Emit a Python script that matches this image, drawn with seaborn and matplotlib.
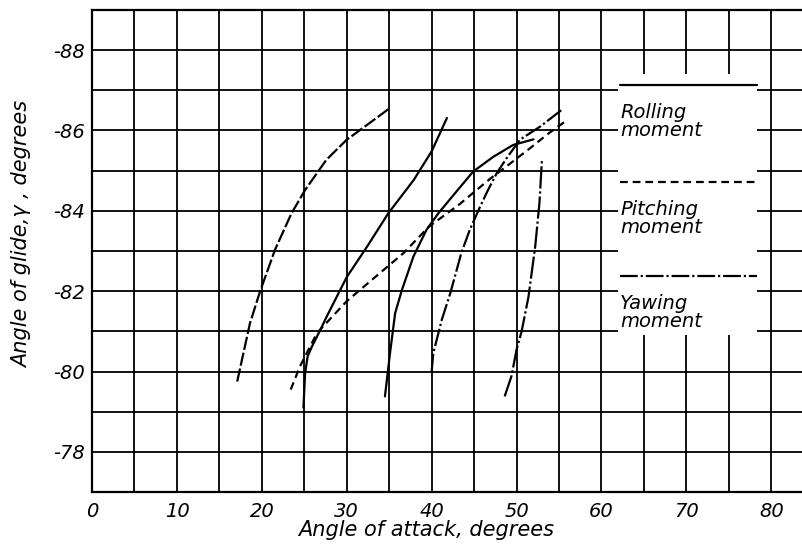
import numpy as np
import pandas as pd
import seaborn as sns
import matplotlib.pyplot as plt
from matplotlib.patches import Rectangle

# curves (angle of attack, angle of glide)
a_x = [17.1, 18.6, 19.8, 21.55, 23.5, 25.1, 27.6, 30.0, 32.4, 34.9]
a_y = [-79.75, -81.2, -82.0, -83.03, -83.94, -84.52, -85.27, -85.77, -86.14, -86.53]

b_x = [23.4, 24.5, 26.5, 30.0, 33.9, 36.7, 39.7, 43.2, 46.9, 49.2, 51.6, 53.6, 55.7]
b_y = [-79.55, -80.13, -80.96, -81.75, -82.45, -82.95, -83.61, -84.15, -84.8, -85.17, -85.56, -85.9, -86.22]

c_x = [24.9, 25.1, 25.4, 25.9, 26.9, 27.6, 30.0, 32.4, 34.9, 37.9, 40.0, 41.8]
c_y = [-79.1, -79.96, -80.38, -80.62, -81.04, -81.35, -82.35, -83.11, -83.94, -84.77, -85.48, -86.31]

d_x = [34.5, 35.1, 35.7, 36.5, 37.85, 39.4, 40.8, 43.0, 44.9, 47.3, 49.6, 52.0]
d_y = [-79.38, -80.46, -81.45, -82.03, -82.86, -83.53, -83.94, -84.5, -84.98, -85.35, -85.64, -85.78]

e_x = [40.0, 40.2, 41.2, 42.2, 43.5, 44.5, 45.7, 46.6, 47.7, 48.8, 50.4, 52.8, 55.3]
e_y = [-80.0, -80.46, -81.29, -81.95, -82.95, -83.53, -84.1, -84.5, -84.95, -85.3, -85.77, -86.1, -86.51]

f_x = [48.6, 49.4, 50.0, 50.6, 51.4, 52.2, 52.7, 53.0]
f_y = [-79.38, -79.88, -80.54, -81.0, -81.85, -83.11, -84.2, -85.3]

x_ticks = [0, 10, 20, 30, 40, 50, 60, 70, 80]
y_ticks = [-88, -86, -84, -82, -80, -78]

key_names = ['Rolling\nmoment', 'Pitching\nmoment', 'Yawing\nmoment']

curves = {'A': (a_x, a_y), 'B': (b_x, b_y), 'C': (c_x, c_y),
          'D': (d_x, d_y), 'E': (e_x, e_y), 'F': (f_x, f_y)}
df = pd.concat([pd.DataFrame({'attack': x, 'glide': y, 'curve': k})
                for k, (x, y) in curves.items()], ignore_index=True)

dash_map = {'A': (6, 1.3), 'B': (3.5, 2.2), 'C': '', 'D': '',
            'E': (8, 1.3, 1, 1.3), 'F': (10, 1.3, 1, 1.3)}

sns.set_theme(style='whitegrid')
plt.rcParams['font.family'] = ['DejaVu Sans']
plt.rcParams['font.style'] = 'italic'
for key in ['text.color', 'axes.labelcolor', 'xtick.color', 'ytick.color']:
    plt.rcParams[key] = 'black'

fig = plt.figure(figsize=(8.03, 5.49), dpi=100)
ax = fig.add_axes([0.1146, 0.1038, 0.8987, 0.878])

sns.lineplot(data=df, x='attack', y='glide', style='curve', dashes=dash_map,
             color='black', estimator=None, sort=False, legend=False,
             linewidth=1.6, ax=ax)

ax.set_xlim(0, 85)
ax.set_ylim(-77, -89)
ax.set_xticks(x_ticks)
ax.set_xticklabels([str(t) for t in x_ticks], fontsize=14, style='italic')
ax.set_xticks(np.arange(5, 85, 10), minor=True)
ax.set_yticks(y_ticks)
ax.set_yticklabels(['-' + str(abs(t)) for t in y_ticks], fontsize=14, style='italic')
ax.set_yticks(np.arange(-89, -76, 1), minor=True)
ax.grid(which='both', color='black', linewidth=1.3)
ax.tick_params(which='both', length=0)
ax.tick_params(axis='x', pad=7)
ax.tick_params(axis='y', pad=5)
for s in ax.spines.values():
    s.set_color('black')
    s.set_linewidth(1.6)

ax.set_xlabel('Angle of attack, degrees', fontsize=15, style='italic')
ax.set_ylabel('Angle of glide,γ , degrees', fontsize=15, style='italic')
ax.xaxis.set_label_coords(0.463, -0.058)
ax.yaxis.set_label_coords(-0.083, 0.535)

# key block, drawn over the grid
ax.add_patch(Rectangle((61.9, -80.9), 16.4, -6.5, facecolor='white',
                       edgecolor='none', zorder=1))
key_x = [62.2, 78.3]
key_y = [-87.13, -84.73, -82.38]
key_ls = ['-', (0, (3.5, 2.2)), (0, (8, 1.3, 1, 1.3))]
for yy, ls, name in zip(key_y, key_ls, key_names):
    ax.plot(key_x, [yy, yy], color='black', linewidth=1.6, linestyle=ls)
    ax.text(key_x[0], yy + 0.45, name, fontsize=14, style='italic',
            va='top', ha='left', linespacing=0.95)

fig.savefig('out.png', dpi=100)
